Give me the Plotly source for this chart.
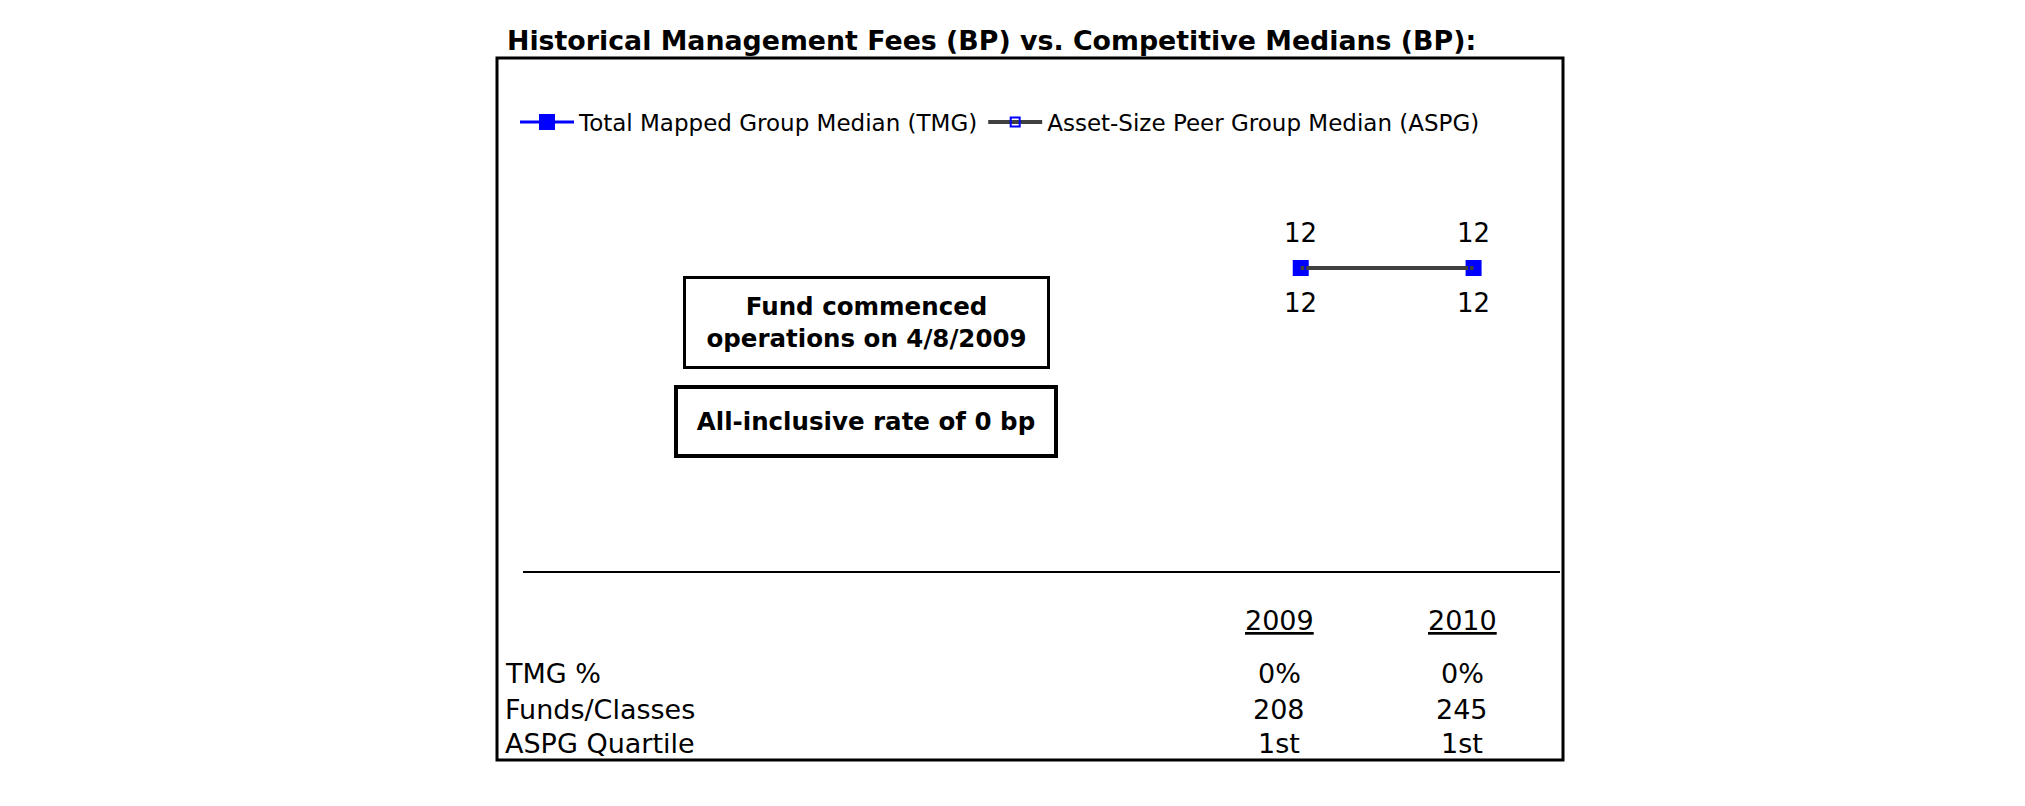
import plotly.graph_objects as go

# ---------------- data ----------------
years = [2009, 2010]
tmg_median = [12, 12]          # Total Mapped Group Median (bp)
aspg_median = [12, 12]         # Asset-Size Peer Group Median (bp)
table_labels = ["TMG %", "Funds/Classes", "ASPG Quartile"]
tmg_pct = ["0%", "0%"]
funds_classes = [208, 245]
aspg_quartile = ["1st", "1st"]
title_text = "Historical Management Fees (BP) vs. Competitive Medians (BP):"
note_1 = "Fund commenced<br>operations on 4/8/2009"
note_2 = "All-inclusive rate of 0 bp"

# ---------------- layout helpers (page pixels -> paper) ----------------
W, H = 2025, 806
OFF = 8                      # default body margin of the page
PL, PR, PT, PB = 523, 1560, 150, 571
def fx(px):
    return (px - PL) / (PR - PL)
def fy(py):
    return (PB - py) / (PB - PT)

FONT = "DejaVu Sans"
BLUE = "#0000FF"
GREY = "#404040"

fig = go.Figure()
fig.add_trace(go.Scatter(
    x=years, y=tmg_median, mode="lines+markers",
    name="Total Mapped Group Median (TMG)",
    line=dict(color=BLUE, width=3),
    marker=dict(symbol="square", size=16, color=BLUE),
))
fig.add_trace(go.Scatter(
    x=years, y=aspg_median, mode="lines+markers",
    name="Asset-Size Peer Group Median (ASPG)",
    line=dict(color=GREY, width=4),
    marker=dict(symbol="square-open", size=9, color=BLUE, line=dict(width=2, color=BLUE)),
))

ann = []
# value labels
for x, v in zip(years, tmg_median):
    ann.append(dict(x=x, y=v, xref="x", yref="y", text=str(v), showarrow=False,
                    yshift=35, font=dict(family=FONT, size=26, color="black")))
for x, v in zip(years, aspg_median):
    ann.append(dict(x=x, y=v, xref="x", yref="y", text=str(v), showarrow=False,
                    yshift=-35, font=dict(family=FONT, size=26, color="black")))

# title
ann.append(dict(x=fx(505), y=fy(40), xref="paper", yref="paper", xanchor="left", yanchor="middle",
                text="<b>" + title_text + "</b>", showarrow=False,
                font=dict(family=FONT, size=26.8, color="black")))

# note boxes
ann.append(dict(x=fx(866.5), y=fy(322.5), xref="paper", yref="paper", xanchor="center", yanchor="middle",
                text="<b>" + note_1 + "</b>", showarrow=False, align="center",
                width=361, height=87, borderpad=0, bordercolor="black", borderwidth=3, bgcolor="white",
                font=dict(family=FONT, size=24.5, color="black")))
ann.append(dict(x=fx(866), y=fy(421.5), xref="paper", yref="paper", xanchor="center", yanchor="middle",
                text="<b>" + note_2 + "</b>", showarrow=False, align="center",
                width=376, height=65, borderpad=0, bordercolor="black", borderwidth=4, bgcolor="white",
                font=dict(family=FONT, size=24.5, color="black")))

# table below the axis
col_px = [1279, 1462]
row_py = [673, 709, 743]
for cx, yr in zip(col_px, years):
    ann.append(dict(x=fx(cx), y=fy(620), xref="paper", yref="paper", xanchor="center", yanchor="middle",
                    text="<u>" + str(yr) + "</u>", showarrow=False,
                    font=dict(family=FONT, size=27, color="black")))
rows = [tmg_pct, [str(v) for v in funds_classes], aspg_quartile]
for ry, lab, vals in zip(row_py, table_labels, rows):
    ann.append(dict(x=fx(503), y=fy(ry), xref="paper", yref="paper", xanchor="left", yanchor="middle",
                    text=lab, showarrow=False, font=dict(family=FONT, size=27, color="black")))
    for cx, v in zip(col_px, vals):
        ann.append(dict(x=fx(cx), y=fy(ry), xref="paper", yref="paper", xanchor="center", yanchor="middle",
                        text=v, showarrow=False, font=dict(family=FONT, size=27, color="black")))

shapes = [dict(type="rect", xref="paper", yref="paper", x0=fx(497), x1=fx(1563), y0=fy(58), y1=fy(760),
               line=dict(color="black", width=3), fillcolor="rgba(0,0,0,0)", layer="below")]

R = 12 * (PB - PT) / (PB - 268)
fig.update_layout(
    width=W, height=H,
    margin=dict(l=PL - OFF, r=W - (PR - OFF), t=PT - OFF, b=H - (PB - OFF), pad=0),
    paper_bgcolor="white", plot_bgcolor="white",
    font=dict(family=FONT, color="black"),
    showlegend=True,
    legend=dict(orientation="h", x=fx(515), y=fy(122), xanchor="left", yanchor="middle",
                font=dict(family=FONT, size=23, color="black"), itemwidth=54,
                bgcolor="rgba(0,0,0,0)", traceorder="normal"),
    xaxis=dict(range=[2004.5, 2010.5], showline=True, linecolor="black", linewidth=2,
               showticklabels=False, ticks="", showgrid=False, zeroline=False, fixedrange=True),
    yaxis=dict(range=[0, R], visible=False, showgrid=False, zeroline=False, fixedrange=True),
    annotations=ann, shapes=shapes,
)
fig.write_html("out.html")
